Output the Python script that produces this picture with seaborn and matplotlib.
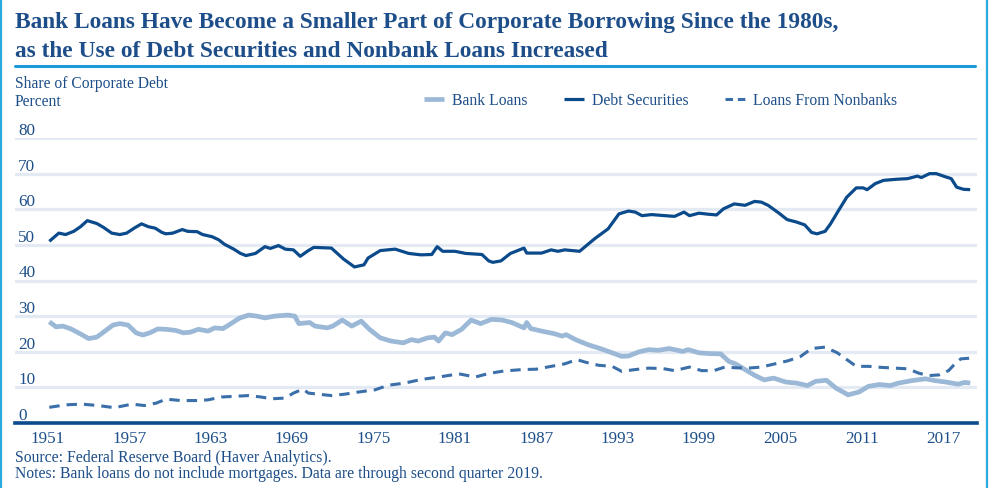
import matplotlib
matplotlib.use("Agg")
import matplotlib.pyplot as plt
from matplotlib.lines import Line2D
import numpy as np
import pandas as pd
import seaborn as sns

# ---- data: share of corporate debt, percent ----
debt_years = [1951.1, 1951.8, 1952.3, 1952.9, 1953.4, 1953.9, 1954.6, 1955.1, 1955.7, 1956.3,
              1956.8, 1957.4, 1957.9, 1958.4, 1958.9, 1959.4, 1959.7, 1960.2, 1960.9, 1961.3,
              1962.0, 1962.4, 1963.1, 1963.6, 1964.0, 1964.7, 1965.2, 1965.6, 1966.3, 1967.0,
              1967.4, 1968.0, 1968.5, 1969.1, 1969.6, 1970.2, 1970.6, 1971.9, 1972.8, 1973.6,
              1974.3, 1974.6, 1975.5, 1976.6, 1977.6, 1978.5, 1979.3, 1979.7, 1980.1, 1981.0,
              1981.8, 1983.0, 1983.5, 1983.8, 1984.4, 1985.1, 1986.1, 1986.3, 1987.4, 1988.1,
              1988.6, 1989.1, 1990.2, 1991.3, 1992.3, 1993.1, 1993.8, 1994.3, 1994.8, 1995.5,
              1996.5, 1997.2, 1997.9, 1998.3, 1999.0, 1999.7, 2000.3, 2000.8, 2001.6, 2002.4,
              2003.1, 2003.6, 2004.1, 2004.9, 2005.5, 2006.2, 2006.8, 2007.3, 2007.7, 2008.3,
              2008.7, 2009.3, 2009.9, 2010.6, 2011.1, 2011.4, 2012.0, 2012.6, 2013.5, 2014.4,
              2015.1, 2015.4, 2016.0, 2016.5, 2017.1, 2017.6, 2018.0, 2018.5, 2019.0]
debt_values = [51.0, 53.3, 52.9, 53.8, 55.1, 56.8, 56.0, 54.9, 53.3, 52.9,
               53.3, 54.8, 55.9, 55.1, 54.7, 53.5, 53.1, 53.3, 54.3, 53.8,
               53.7, 52.9, 52.3, 51.4, 50.2, 48.8, 47.6, 47.0, 47.6, 49.5,
               49.0, 49.8, 48.8, 48.6, 46.8, 48.4, 49.3, 49.1, 46.0, 43.8,
               44.4, 46.3, 48.4, 48.8, 47.6, 47.2, 47.3, 49.5, 48.2, 48.2,
               47.6, 47.3, 45.5, 45.1, 45.5, 47.6, 49.1, 47.7, 47.7, 48.6,
               48.2, 48.6, 48.2, 51.7, 54.5, 58.7, 59.5, 59.2, 58.2, 58.5,
               58.2, 58.0, 59.2, 58.2, 58.9, 58.6, 58.4, 60.1, 61.5, 61.1,
               62.2, 62.0, 61.1, 58.9, 57.1, 56.4, 55.6, 53.5, 53.1, 53.8,
               55.9, 59.7, 63.4, 66.0, 66.0, 65.5, 67.2, 68.1, 68.4, 68.6,
               69.3, 68.9, 70.0, 70.0, 69.2, 68.6, 66.2, 65.6, 65.5]

bank_years = [1951.1, 1951.6, 1952.1, 1952.7, 1953.4, 1954.0, 1954.6, 1955.2, 1955.8, 1956.3,
              1956.9, 1957.5, 1958.0, 1958.5, 1959.1, 1959.7, 1960.4, 1961.0, 1961.5, 1962.1,
              1962.8, 1963.3, 1963.9, 1964.5, 1965.1, 1965.8, 1966.4, 1967.0, 1967.7, 1968.7,
              1969.2, 1969.5, 1970.3, 1970.7, 1971.6, 1972.0, 1972.7, 1973.4, 1974.1, 1974.7,
              1975.5, 1976.3, 1977.2, 1977.8, 1978.3, 1979.0, 1979.5, 1979.8, 1980.3, 1980.8,
              1981.5, 1982.2, 1982.9, 1983.7, 1984.5, 1985.2, 1986.1, 1986.3, 1986.6, 1987.4,
              1988.3, 1988.9, 1989.2, 1989.9, 1990.8, 1991.8, 1992.6, 1993.3, 1993.8, 1994.6,
              1995.3, 1996.0, 1996.8, 1997.8, 1998.2, 1999.0, 1999.7, 2000.6, 2001.2, 2001.7,
              2002.4, 2003.1, 2003.8, 2004.5, 2005.4, 2006.2, 2007.0, 2007.6, 2008.4, 2009.1,
              2010.0, 2010.8, 2011.5, 2012.3, 2013.1, 2013.7, 2014.7, 2015.7, 2016.4, 2017.2,
              2018.1, 2018.6, 2019.0]
bank_values = [28.4, 27.0, 27.2, 26.4, 25.0, 23.7, 24.1, 25.8, 27.5, 27.9,
               27.5, 25.3, 24.7, 25.3, 26.4, 26.3, 26.0, 25.3, 25.5, 26.3,
               25.8, 26.7, 26.5, 27.9, 29.4, 30.3, 30.0, 29.5, 30.0, 30.3,
               30.0, 27.9, 28.2, 27.2, 26.7, 27.2, 28.9, 27.2, 28.6, 26.3,
               23.9, 23.0, 22.5, 23.4, 23.0, 23.9, 24.1, 23.0, 25.3, 24.8,
               26.3, 28.9, 27.9, 29.1, 28.9, 28.2, 26.7, 28.2, 26.5, 25.8,
               25.1, 24.4, 24.8, 23.4, 22.0, 20.8, 19.7, 18.7, 18.8, 20.0,
               20.6, 20.4, 20.9, 20.1, 20.6, 19.7, 19.5, 19.4, 17.3, 16.6,
               15.0, 13.4, 12.1, 12.6, 11.5, 11.2, 10.5, 11.7, 12.0, 9.8,
               7.9, 8.7, 10.3, 10.8, 10.5, 11.2, 11.9, 12.4, 11.9, 11.5,
               10.9, 11.4, 11.2]

nonbank_years = [1951.1, 1952.3, 1953.5, 1954.7, 1955.9, 1957.2, 1958.1, 1959.0, 1959.7, 1960.8,
                 1962.1, 1962.8, 1963.8, 1964.8, 1965.8, 1966.7, 1967.5, 1968.5, 1969.1, 1969.8,
                 1970.2, 1970.9, 1971.9, 1972.9, 1973.9, 1975.1, 1976.1, 1977.3, 1978.5, 1979.8,
                 1981.3, 1982.5, 1983.5, 1984.6, 1986.0, 1987.0, 1988.1, 1989.1, 1990.0, 1990.6,
                 1991.6, 1992.6, 1993.3, 1994.3, 1995.3, 1996.3, 1997.2, 1998.3, 1999.2, 2000.1,
                 2000.9, 2001.7, 2002.6, 2003.6, 2004.6, 2005.6, 2006.5, 2007.3, 2008.3, 2009.2,
                 2009.9, 2010.6, 2011.5, 2012.5, 2013.5, 2014.4, 2015.2, 2015.9, 2016.7, 2017.4,
                 2017.8, 2018.3, 2019.0]
nonbank_values = [4.4, 5.1, 5.3, 4.9, 4.3, 5.3, 4.9, 5.6, 6.7, 6.3,
                  6.3, 6.5, 7.3, 7.5, 7.7, 7.3, 6.8, 7.0, 8.4, 9.5,
                  8.4, 8.1, 7.7, 8.1, 8.7, 9.3, 10.6, 11.2, 12.2, 12.9,
                  13.8, 12.9, 13.9, 14.6, 15.0, 15.1, 15.9, 16.6, 17.8, 17.1,
                  16.2, 15.9, 14.5, 15.0, 15.4, 15.3, 14.7, 15.7, 14.7, 14.7,
                  15.7, 15.5, 15.4, 15.7, 16.6, 17.5, 18.7, 20.9, 21.3, 19.7,
                  17.8, 15.9, 15.9, 15.6, 15.4, 15.2, 14.0, 13.3, 13.5, 14.7,
                  16.3, 18.0, 18.2]

series_names = ["Bank Loans", "Debt Securities", "Loans From Nonbanks"]
x_ticks = [1951, 1957, 1963, 1969, 1975, 1981, 1987, 1993, 1999, 2005, 2011, 2017]
y_ticks = [0, 10, 20, 30, 40, 50, 60, 70, 80]

title_lines = ["Bank Loans Have Become a Smaller Part of Corporate Borrowing Since the 1980s,",
               "as the Use of Debt Securities and Nonbank Loans Increased"]
subtitle_lines = ["Share of Corporate Debt", "Percent"]
note_lines = ["Source: Federal Reserve Board (Haver Analytics).",
              "Notes: Bank loans do not include mortgages. Data are through second quarter 2019."]

# ---- styling ----
sns.set_theme(style="white")
plt.rcParams["font.family"] = ["Liberation Serif", "DejaVu Serif"]

NAVY = "#1d4e89"
C_BANK = "#9bb8d7"
C_DEBT = "#0b4a8b"
C_NONBANK = "#3a6fa9"
C_GRID = "#e3eaf3"
C_RULE = "#1a9ad8"
C_BORDER = "#29abe2"

W, H = 989, 489
fig = plt.figure(figsize=(W / 100, H / 100), dpi=100)
fig.patch.set_facecolor("white")

def fx(px):
    return px / W

def fy(py):
    return 1 - py / H

ax = fig.add_axes([fx(15), fy(424), fx(977) - fx(15), fy(139) - fy(424)])
ax.set_facecolor("white")

df = pd.concat([
    pd.DataFrame({"year": bank_years, "share": bank_values, "series": series_names[0]}),
    pd.DataFrame({"year": debt_years, "share": debt_values, "series": series_names[1]}),
    pd.DataFrame({"year": nonbank_years, "share": nonbank_values, "series": series_names[2]}),
])

sns.lineplot(data=df[df.series == series_names[0]], x="year", y="share", ax=ax,
             color=C_BANK, linewidth=3.4, label=series_names[0], estimator=None)
sns.lineplot(data=df[df.series == series_names[1]], x="year", y="share", ax=ax,
             color=C_DEBT, linewidth=2.3, label=series_names[1], estimator=None)
sns.lineplot(data=df[df.series == series_names[2]], x="year", y="share", ax=ax,
             color=C_NONBANK, linewidth=2.2, label=series_names[2], estimator=None)
ax.lines[-1].set_dashes((3.4, 2.3))
for ln in ax.lines:
    ln.set_solid_capstyle("butt")
    ln.set_dash_capstyle("butt")

ax.set_xlim(1948.57, 2019.5)
ax.set_ylim(0, 80)
ax.set_xlabel("")
ax.set_ylabel("")

for s in ["top", "left", "right"]:
    ax.spines[s].set_visible(False)
ax.spines["bottom"].set_color(C_DEBT)
ax.spines["bottom"].set_linewidth(2.6)
ax.spines["bottom"].set_zorder(5)

ax.yaxis.grid(True, color=C_GRID, linewidth=2.3)
ax.xaxis.grid(False)
ax.set_axisbelow(True)

ax.tick_params(axis="x", length=0, pad=5.3, labelsize=12.3, labelcolor=NAVY)
ax.tick_params(axis="y", length=0, pad=-2.3, labelsize=12.3, labelcolor=NAVY)
ax.set_xticks(x_ticks)
ax.set_xticklabels([str(t) for t in x_ticks])
ax.set_yticks(y_ticks)
ax.set_yticklabels([str(t) for t in y_ticks], ha="left", va="bottom")

# legend row; the dashed key gets a shorter dash so two dashes fit in the key
handles, labels = ax.get_legend_handles_labels()
ax.get_legend().remove()
handles[2] = Line2D([], [], color=C_NONBANK, linewidth=2.2, dashes=(2.45, 1.6),
                    dash_capstyle="butt")
fig.legend(handles, labels, loc="center left", bbox_to_anchor=(fx(424), fy(101)),
           ncol=3, frameon=False, fontsize=11.3, labelcolor=NAVY,
           handlelength=1.3, handletextpad=0.5, columnspacing=2.3,
           borderpad=0, borderaxespad=0)

# title block
fig.text(fx(15), fy(28), title_lines[0], fontsize=16.8, fontweight="bold", color=NAVY,
         va="baseline", ha="left")
fig.text(fx(15), fy(57), title_lines[1], fontsize=16.8, fontweight="bold", color=NAVY,
         va="baseline", ha="left")
fig.add_artist(Line2D([fx(15), fx(975)], [fy(67), fy(67)], color=C_RULE, linewidth=2.2))

fig.text(fx(15), fy(88), subtitle_lines[0], fontsize=11.2, color=NAVY, va="baseline", ha="left")
fig.text(fx(15), fy(106), subtitle_lines[1], fontsize=11.2, color=NAVY, va="baseline", ha="left")

fig.text(fx(15), fy(462), note_lines[0], fontsize=11.3, color=NAVY, va="baseline", ha="left")
fig.text(fx(15), fy(478), note_lines[1], fontsize=11.3, color=NAVY, va="baseline", ha="left")

# side frame lines
fig.add_artist(Line2D([fx(1.2), fx(1.2)], [0, 1], color=C_BORDER, linewidth=1.6))
fig.add_artist(Line2D([fx(986.8), fx(986.8)], [0, 1], color=C_BORDER, linewidth=1.6))

fig.savefig("out.png", dpi=100, facecolor="white")
